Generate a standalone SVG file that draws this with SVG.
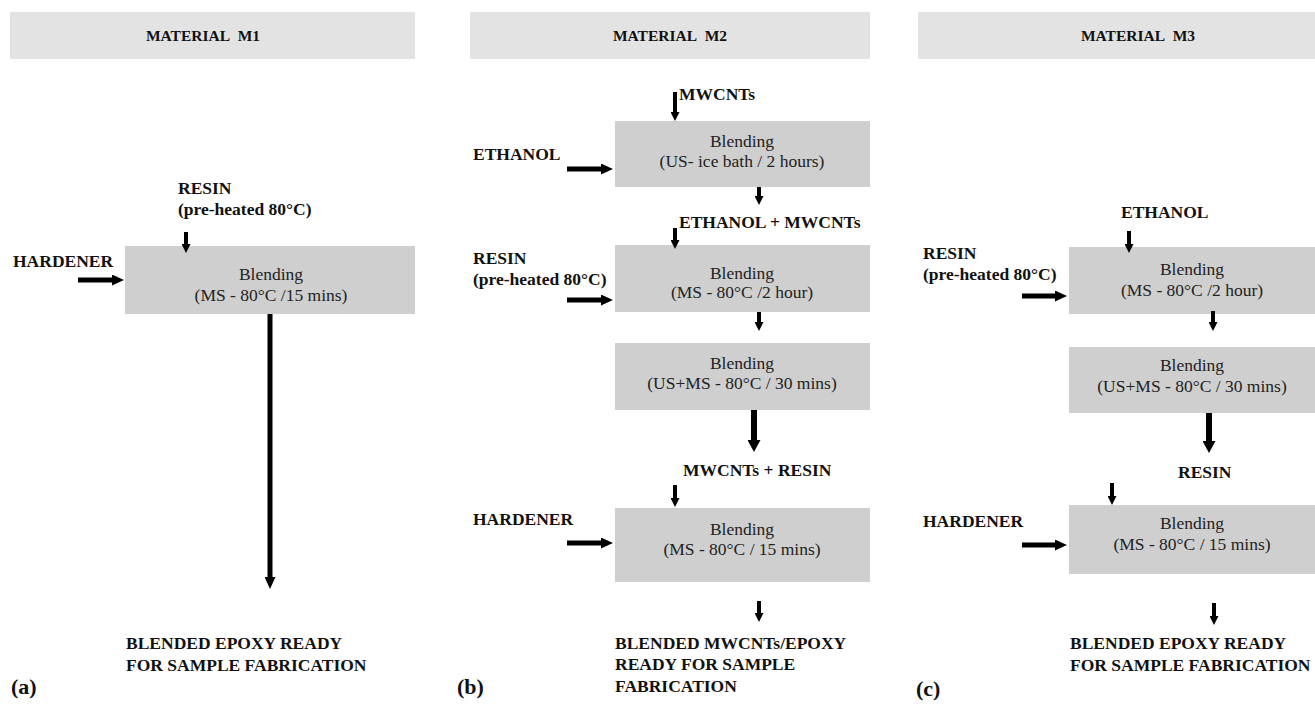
<svg xmlns="http://www.w3.org/2000/svg" width="1315" height="705" viewBox="0 0 1315 705">
<style>
  .hdr{fill:#e3e3e3}
  .box{fill:#cfcfcf}
  .ht{font-family:"Liberation Serif","Times New Roman",serif;font-weight:bold;font-size:15.5px;fill:#111;text-anchor:middle}
  .bt{font-family:"Liberation Serif","Times New Roman",serif;font-size:17.5px;fill:#222;text-anchor:middle}
  .lb{font-family:"Liberation Serif","Times New Roman",serif;font-weight:bold;font-size:17.5px;fill:#111}
  .pl{font-family:"Liberation Serif","Times New Roman",serif;font-weight:bold;font-size:22px;fill:#111}
  .ar{stroke:#000;stroke-width:5;fill:none}
  .sm{stroke:#000;stroke-width:4;fill:none}
  .tk{stroke:#000;stroke-width:6;fill:none}
</style>
<defs>
  <marker id="ah" markerUnits="userSpaceOnUse" viewBox="0 0 12 11" markerWidth="12" markerHeight="11" refX="0" refY="5.5" orient="auto">
    <path d="M0,0 L12,5.5 L0,11 z" fill="#000"/>
  </marker>
  <marker id="at" markerUnits="userSpaceOnUse" viewBox="0 0 12 13" markerWidth="12" markerHeight="13" refX="0" refY="6.5" orient="auto">
    <path d="M0,0 L12,6.5 L0,13 z" fill="#000"/>
  </marker>
  <marker id="as" markerUnits="userSpaceOnUse" viewBox="0 0 9 9" markerWidth="9" markerHeight="9" refX="0" refY="4.5" orient="auto">
    <path d="M0,0 L9,4.5 L0,9 z" fill="#000"/>
  </marker>
</defs>

<!-- Panel (a) -->
<g id="hdr-m1"><rect class="hdr" x="10" y="12" width="405" height="47"/><text class="ht" x="203" y="41">MATERIAL&#160;&#160;M1</text></g>
<g id="a-resin"><text class="lb" x="178" y="194">RESIN</text><text class="lb" x="178" y="215">(pre-heated 80°C)</text></g>
<g id="a-hardener"><text class="lb" x="13" y="267">HARDENER</text></g>
<g id="a-blend"><rect class="box" x="125" y="246" width="290" height="68"/><text class="bt" x="271" y="280">Blending</text><text class="bt" x="271" y="301">(MS - 80°C /15 mins)</text></g>
<g id="a-out"><text class="lb" x="126" y="649">BLENDED EPOXY READY</text><text class="lb" x="126" y="671">FOR SAMPLE FABRICATION</text></g>
<g id="a-label"><text class="pl" x="11" y="694">(a)</text></g>

<!-- Panel (b) -->
<g id="hdr-m2"><rect class="hdr" x="470" y="12" width="400" height="47"/><text class="ht" x="670" y="41">MATERIAL&#160;&#160;M2</text></g>
<g id="b-mwcnts"><text class="lb" x="679" y="100">MWCNTs</text></g>
<g id="b-ethanol"><text class="lb" x="473" y="160">ETHANOL</text></g>
<g id="b-blend1"><rect class="box" x="615" y="121" width="255" height="66"/><text class="bt" x="742" y="147">Blending</text><text class="bt" x="742" y="167">(US- ice bath / 2 hours)</text></g>
<g id="b-eth-mw"><text class="lb" x="679" y="228">ETHANOL + MWCNTs</text></g>
<g id="b-resin"><text class="lb" x="473" y="264">RESIN</text><text class="lb" x="473" y="285">(pre-heated 80°C)</text></g>
<g id="b-blend2"><rect class="box" x="615" y="245" width="255" height="67"/><text class="bt" x="742" y="279">Blending</text><text class="bt" x="742" y="298">(MS - 80°C /2 hour)</text></g>
<g id="b-blend3"><rect class="box" x="615" y="343" width="255" height="67"/><text class="bt" x="742" y="369">Blending</text><text class="bt" x="742" y="389">(US+MS - 80°C / 30 mins)</text></g>
<g id="b-mw-resin"><text class="lb" x="683" y="476">MWCNTs + RESIN</text></g>
<g id="b-hardener"><text class="lb" x="473" y="525">HARDENER</text></g>
<g id="b-blend4"><rect class="box" x="615" y="508" width="255" height="74"/><text class="bt" x="742" y="535">Blending</text><text class="bt" x="742" y="555">(MS - 80°C / 15 mins)</text></g>
<g id="b-out"><text class="lb" x="615" y="649">BLENDED MWCNTs/EPOXY</text><text class="lb" x="615" y="670">READY FOR SAMPLE</text><text class="lb" x="615" y="692">FABRICATION</text></g>
<g id="b-label"><text class="pl" x="457" y="694">(b)</text></g>

<!-- Panel (c) -->
<g id="hdr-m3"><rect class="hdr" x="918" y="12" width="400" height="47"/><text class="ht" x="1138" y="41">MATERIAL&#160;&#160;M3</text></g>
<g id="c-ethanol"><text class="lb" x="1121" y="218">ETHANOL</text></g>
<g id="c-resin"><text class="lb" x="923" y="259">RESIN</text><text class="lb" x="923" y="280">(pre-heated 80°C)</text></g>
<g id="c-blend1"><rect class="box" x="1069" y="247" width="250" height="67"/><text class="bt" x="1192" y="275">Blending</text><text class="bt" x="1192" y="296">(MS - 80°C /2 hour)</text></g>
<g id="c-blend2"><rect class="box" x="1069" y="347" width="250" height="66"/><text class="bt" x="1192" y="371">Blending</text><text class="bt" x="1192" y="392">(US+MS - 80°C / 30 mins)</text></g>
<g id="c-resin2"><text class="lb" x="1178" y="478">RESIN</text></g>
<g id="c-hardener"><text class="lb" x="923" y="527">HARDENER</text></g>
<g id="c-blend3"><rect class="box" x="1069" y="505" width="250" height="69"/><text class="bt" x="1192" y="529">Blending</text><text class="bt" x="1192" y="550">(MS - 80°C / 15 mins)</text></g>
<g id="c-out"><text class="lb" x="1070" y="649">BLENDED EPOXY READY</text><text class="lb" x="1070" y="671">FOR SAMPLE FABRICATION</text></g>
<g id="c-label"><text class="pl" x="916" y="696">(c)</text></g>

<!-- Connectors -->
<g id="connectors">
  <line class="ar" x1="78" y1="280" x2="112" y2="280" marker-end="url(#ah)"/>
  <line class="sm" x1="186" y1="232" x2="186" y2="244" marker-end="url(#as)"/>
  <line class="ar" x1="270" y1="314" x2="270" y2="577" marker-end="url(#ah)"/>

  <line class="sm" x1="675" y1="92" x2="675" y2="112" marker-end="url(#as)"/>
  <line class="ar" x1="567" y1="169" x2="601" y2="169" marker-end="url(#ah)"/>
  <line class="sm" x1="759" y1="187" x2="759" y2="196" marker-end="url(#as)"/>
  <line class="sm" x1="675" y1="228" x2="675" y2="240" marker-end="url(#as)"/>
  <line class="ar" x1="567" y1="300" x2="601" y2="300" marker-end="url(#ah)"/>
  <line class="sm" x1="759" y1="312" x2="759" y2="322" marker-end="url(#as)"/>
  <line class="tk" x1="754" y1="410" x2="754" y2="440" marker-end="url(#at)"/>
  <line class="sm" x1="675" y1="485" x2="675" y2="498" marker-end="url(#as)"/>
  <line class="ar" x1="567" y1="543" x2="601" y2="543" marker-end="url(#ah)"/>
  <line class="sm" x1="759" y1="601" x2="759" y2="613" marker-end="url(#as)"/>

  <line class="sm" x1="1129" y1="231" x2="1129" y2="244" marker-end="url(#as)"/>
  <line class="ar" x1="1022" y1="296" x2="1055" y2="296" marker-end="url(#ah)"/>
  <line class="sm" x1="1213" y1="311" x2="1213" y2="322" marker-end="url(#as)"/>
  <line class="tk" x1="1209" y1="413" x2="1209" y2="441" marker-end="url(#at)"/>
  <line class="sm" x1="1112" y1="483" x2="1112" y2="496" marker-end="url(#as)"/>
  <line class="ar" x1="1022" y1="545" x2="1055" y2="545" marker-end="url(#ah)"/>
  <line class="sm" x1="1214" y1="603" x2="1214" y2="616" marker-end="url(#as)"/>
</g>
</svg>
